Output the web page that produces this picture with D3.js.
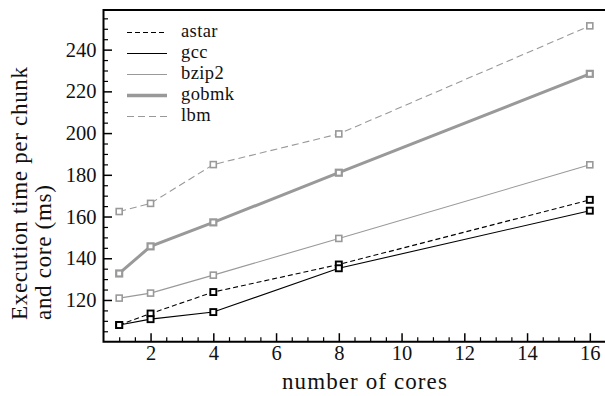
<!DOCTYPE html>
<html>
<head>
<meta charset="utf-8">
<script src="https://cdn.jsdelivr.net/npm/d3@7"></script>
<style>
  body { margin: 0; background: #fff; }
</style>
</head>
<body>
<div id="main"></div>
<script>
// valores
const cores = [1, 2, 4, 8, 16];
const astar = [108, 113.5, 123.8, 137, 168];
const gcc = [108, 110.8, 114.2, 135.2, 162.8];
const bzip2 = [120.9, 123.3, 131.9, 149.5, 184.8];
const gobmk = [132.7, 145.7, 157.2, 181, 228.4];
const lbm = [162.4, 166.3, 184.9, 199.6, 251.4];
const xTicks = [2, 4, 6, 8, 10, 12, 14, 16];
const yTicks = [120, 140, 160, 180, 200, 220, 240];

const width = 605, height = 396;
const mLeft = 103.5, mTop = 10, mBottom = 341.7;
const serif = 'Liberation Serif';

const series = [
  { name: 'astar', values: astar, color: '#000', width: 1.1, dash: '5,3', mStroke: 1.9, mColor: '#000' },
  { name: 'gcc', values: gcc, color: '#000', width: 1.1, dash: null, mStroke: 1.9, mColor: '#000' },
  { name: 'bzip2', values: bzip2, color: '#999', width: 1.1, dash: null, mStroke: 1.6, mColor: '#999' },
  { name: 'gobmk', values: gobmk, color: '#999', width: 3, dash: null, mStroke: 2.2, mColor: '#999' },
  { name: 'lbm', values: lbm, color: '#999', width: 1.1, dash: '7,4', mStroke: 1.6, mColor: '#999' }
];

const svg = d3.select('#main')
  .append('svg')
  .attr('width', width)
  .attr('height', height)
  .style('display', 'block');

const xScale = d3.scaleLinear().domain([0.5, 16.5]).range([mLeft, 605.5]);
const yScale = d3.scaleLinear().domain([100, 259]).range([mBottom, mTop]);

// ticks menores
const xMinor = d3.range(1, 16.6, 0.5).filter(v => v % 2 !== 0);
const yMinor = d3.range(105, 259, 5).filter(v => v % 20 !== 0);

svg.append('g')
  .attr('transform', `translate(0,${mBottom})`)
  .call(d3.axisBottom(xScale).tickValues(xMinor).tickSize(-4.5).tickFormat(''))
  .call(g => g.select('.domain').remove())
  .selectAll('line').attr('stroke-width', 1.2);

svg.append('g')
  .attr('transform', `translate(${mLeft},0)`)
  .call(d3.axisLeft(yScale).tickValues(yMinor).tickSize(-4.5).tickFormat(''))
  .call(g => g.select('.domain').remove())
  .selectAll('line').attr('stroke-width', 1.2);

const xAxis = svg.append('g')
  .attr('transform', `translate(0,${mBottom})`)
  .call(d3.axisBottom(xScale).tickValues(xTicks).tickSize(-8.5).tickPadding(4).tickSizeOuter(0))
  .attr('font-family', serif);
xAxis.select('.domain').remove();
xAxis.selectAll('line').attr('stroke-width', 1.5);
xAxis.selectAll('text').attr('font-size', 20.5).attr('fill', '#111');

const yAxis = svg.append('g')
  .attr('transform', `translate(${mLeft},0)`)
  .call(d3.axisLeft(yScale).tickValues(yTicks).tickSize(-8.5).tickPadding(7).tickSizeOuter(0))
  .attr('font-family', serif);
yAxis.select('.domain').remove();
yAxis.selectAll('line').attr('stroke-width', 1.5);
yAxis.selectAll('text').attr('font-size', 20.5).attr('fill', '#111');

// moldura: esquerda, topo, base
svg.append('path')
  .attr('d', `M605,${mTop}H${mLeft}V${mBottom}H605`)
  .attr('fill', 'none')
  .attr('stroke', '#000')
  .attr('stroke-width', 2);

const line = d3.line()
  .x((d, i) => xScale(cores[i]))
  .y(d => yScale(d));

series.forEach(s => {
  svg.append('path')
    .datum(s.values)
    .attr('fill', 'none')
    .attr('stroke', s.color)
    .attr('stroke-width', s.width)
    .attr('stroke-dasharray', s.dash)
    .attr('d', line);
});

series.forEach(s => {
  svg.append('g')
    .selectAll('rect')
    .data(s.values)
    .join('rect')
    .attr('x', (d, i) => xScale(cores[i]) - 3)
    .attr('y', d => yScale(d) - 3)
    .attr('width', 6)
    .attr('height', 6)
    .attr('fill', '#fff')
    .attr('stroke', s.mColor)
    .attr('stroke-width', s.mStroke);
});

// legenda
const legend = svg.append('g');
series.forEach((s, i) => {
  const y = 32.5 + i * 21;
  legend.append('line')
    .attr('x1', 127).attr('x2', 167)
    .attr('y1', y).attr('y2', y)
    .attr('stroke', s.color)
    .attr('stroke-width', s.width === 3 ? 3.5 : s.width)
    .attr('stroke-dasharray', s.dash);
  legend.append('text')
    .attr('x', 181).attr('y', y + 4.5)
    .attr('font-family', serif)
    .attr('font-size', 18.5)
    .attr('letter-spacing', 0.4)
    .attr('fill', '#111')
    .text(s.name);
});

// rótulos dos eixos
svg.append('text')
  .attr('x', 365).attr('y', 389)
  .attr('text-anchor', 'middle')
  .attr('font-family', serif)
  .attr('font-size', 23)
  .attr('letter-spacing', 1.1)
  .attr('fill', '#111')
  .text('number of cores');

const yLab = svg.append('text')
  .attr('transform', 'translate(27,320) rotate(-90)')
  .attr('font-family', serif)
  .attr('font-size', 23)
  .attr('letter-spacing', 0.7)
  .attr('fill', '#111');
yLab.append('tspan').attr('x', 0).attr('y', 0).text('Execution time per chunk');
yLab.append('tspan').attr('x', 0).attr('y', 23.5).text('and core (ms)');
</script>
</body>
</html>
